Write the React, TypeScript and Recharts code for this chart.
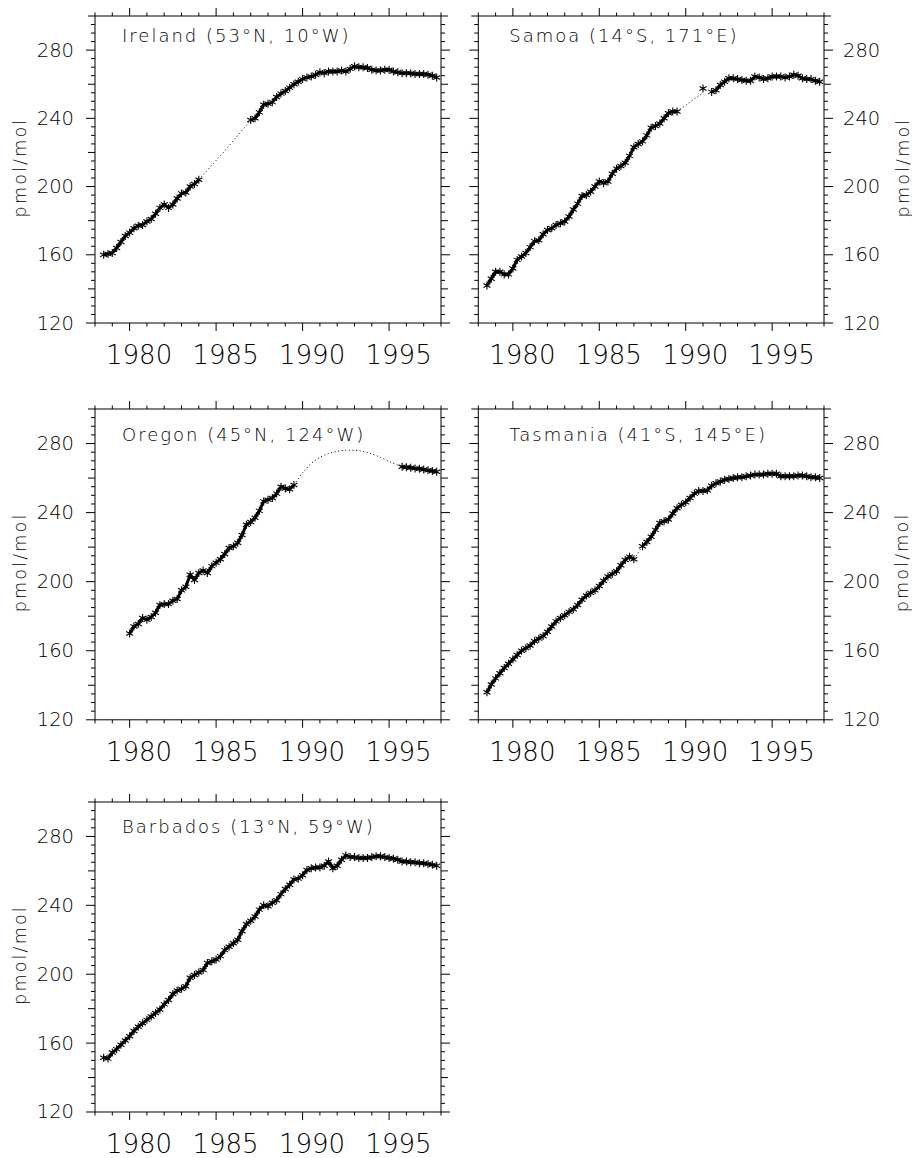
import { ComposedChart, Line, Scatter, XAxis, YAxis } from "recharts";

// Quarterly station means (pmol/mol). Each series starts at the given
// decimal year and steps a quarter; null marks quarters without sampling.
const irelandStart = 1978.5;
const irelandValues = [
  160, 160.5, 161, 164, 167.5, 171, 173, 175.5, 177, 177.5, 179.5, 181, 184,
  187.5, 189.5, 187.5, 189.5, 193, 196, 196.5, 200, 201.5, 204,
  null, null, null, null, null, null, null, null, null, null, null,
  239, 240, 243.5, 248, 248.5, 249.5, 252.5, 254.5, 256, 258, 260, 261.5,
  263, 264, 264.5, 265.5, 267, 266.5, 267.5, 267.5, 267.5, 268, 267.5, 269,
  270.5, 270, 270, 269.5, 268.5, 268, 268, 268.5, 268.5, 267.5, 267, 266.5,
  266.5, 266.5, 266, 266, 266, 265.5, 265, 264,
];
const irelandFitYears = [1984.0, 1984.75, 1985.5, 1986.25, 1987.0];
const irelandFitValues = [204, 212.5, 221, 230, 239];

const samoaStart = 1978.5;
const samoaValues = [
  142, 146, 150, 150, 148.5, 148.5, 152, 157, 159, 161, 164.5, 168, 168.5,
  172, 174.5, 175.5, 177.5, 178.5, 179.5, 182.5, 186.5, 190, 194.5, 195,
  197, 200, 203, 202, 203, 207.5, 210.5, 212, 214, 218, 223, 225, 226.5,
  230, 234.5, 235.5, 237, 240, 243, 244, 244,
  null, null, null, null, null,
  257.5, null,
  255.5, 256.5, 259.5, 261.5, 263.5, 263.5, 263, 262.5, 262, 262, 264.5,
  264, 263, 263.5, 264.5, 264.5, 264.5, 264, 264.5, 265.5, 265, 263.5, 263,
  263, 262, 261.5,
];
const samoaFitYears = [1989.5, 1990.25, 1991.0];
const samoaFitValues = [244, 249.5, 255];

const oregonStart = 1980.0;
const oregonValues = [
  170, 174, 175.5, 179, 178, 179.5, 182, 186.5, 187, 187, 189, 190, 195,
  197, 204, 201, 205, 206.5, 205, 209, 211, 213, 216, 219.5, 220.5, 222.5,
  227, 233, 234.5, 237, 241, 246.5, 247.5, 248.5, 251, 255, 254, 253.5, 256,
  null, null, null, null, null, null, null, null, null, null, null, null,
  null, null, null, null, null, null, null, null, null, null, null, null,
  266.5, 266.3, 266, 265.6, 265.4, 265, 264.5, 264.1, 263.6,
];
const oregonFitYears = [
  1989.5, 1990.0, 1990.5, 1991.0, 1991.5, 1992.0, 1992.5, 1993.0, 1993.5,
  1994.0, 1994.5, 1995.0, 1995.5, 1995.75,
];
const oregonFitValues = [
  256, 263, 268.5, 272, 274.2, 275.5, 276.1, 276.1, 275.4, 274, 272, 269.6,
  267.5, 266.5,
];

const tasmaniaStart = 1978.5;
const tasmaniaValues = [
  136, 140.5, 144, 147, 150, 152.5, 155, 157.5, 160, 161.5, 163, 165.5, 167,
  168.5, 171, 174, 177, 179, 180.5, 182.5, 184, 186.5, 189.5, 192, 193.5,
  195, 197.5, 200.5, 203, 204.5, 206, 209.5, 212.5, 214.5, 213, null, 220.5,
  223, 226, 230, 234, 235, 236, 239.5, 242.5, 244.5, 246, 248.5, 251, 252.5,
  252.5, 253, 255.5, 257, 258, 259, 259.5, 260, 260.5, 260.5, 261, 261.5,
  262, 262, 262, 262.5, 262.5, 262.5, 261, 261, 261, 261, 261.5, 261.5, 261,
  260.5, 260.5, 260,
];
const tasmaniaFitYears = [1987.0, 1987.5];
const tasmaniaFitValues = [213, 220.5];

const barbadosStart = 1978.5;
const barbadosValues = [
  151.5, 151, 154.5, 156.5, 159, 161.5, 164, 167, 169.5, 171.5, 173.5, 175.5,
  177.5, 179.5, 182.5, 185, 188.5, 190.5, 191.5, 193, 198, 199.5, 201, 202.5,
  206.5, 207.5, 208.5, 210.5, 214, 216, 218, 220, 225, 229, 231, 233.5,
  237.5, 240, 239.5, 241.5, 243, 246.5, 249.5, 252, 255, 255.5, 257.5, 260.5,
  261.5, 262, 262, 263, 265.5, 261.5, 263, 266.5, 269, 268, 268, 267.5,
  267.5, 267.5, 268, 268.5, 268.5, 268, 267.5, 267, 266.5, 265.5, 265.5, 265,
  265, 264.5, 264.5, 264, 263.5, 263,
];
const barbadosFitYears: number[] = [];
const barbadosFitValues: number[] = [];

// axis ticks
const yearTicks = [
  1978, 1979, 1980, 1981, 1982, 1983, 1984, 1985, 1986, 1987, 1988, 1989,
  1990, 1991, 1992, 1993, 1994, 1995, 1996, 1997, 1998,
];
const yearLabels = [1980, 1985, 1990, 1995];
const mixTicks = [
  120, 125, 130, 135, 140, 145, 150, 155, 160, 165, 170, 175, 180, 185, 190,
  195, 200, 205, 210, 215, 220, 225, 230, 235, 240, 245, 250, 255, 260, 265,
  270, 275, 280, 285, 290, 295, 300,
];
const mixLabels = [120, 160, 200, 240, 280];

const FONT = "'DejaVu Sans', sans-serif";
const INK = "#000";

type Row = { t: number; v: number | null };

const quarterly = (start: number, values: (number | null)[]): Row[] =>
  values.map((v, i) => ({ t: start + i * 0.25, v }));

const pairs = (ts: number[], vs: number[]): Row[] =>
  ts.map((t, i) => ({ t, v: vs[i] }));

type Box = { x0: number; x1: number; y0: number; y1: number };

type Panel = {
  title: string;
  rows: Row[];
  fit: Row[];
  box: Box;
  side: "left" | "right";
  titleDx: number;
  titleDy: number;
};

const panels: Panel[] = [
  {
    title: "Ireland (53°N, 10°W)",
    rows: quarterly(irelandStart, irelandValues),
    fit: pairs(irelandFitYears, irelandFitValues),
    box: { x0: 95, x1: 441, y0: 15.7, y1: 322.7 },
    side: "left",
    titleDx: 27,
    titleDy: 26,
  },
  {
    title: "Samoa (14°S, 171°E)",
    rows: quarterly(samoaStart, samoaValues),
    fit: pairs(samoaFitYears, samoaFitValues),
    box: { x0: 478.3, x1: 824, y0: 15.7, y1: 322.7 },
    side: "right",
    titleDx: 31,
    titleDy: 26,
  },
  {
    title: "Oregon (45°N, 124°W)",
    rows: quarterly(oregonStart, oregonValues),
    fit: pairs(oregonFitYears, oregonFitValues),
    box: { x0: 95, x1: 441, y0: 408.5, y1: 719.3 },
    side: "left",
    titleDx: 27,
    titleDy: 32,
  },
  {
    title: "Tasmania (41°S, 145°E)",
    rows: quarterly(tasmaniaStart, tasmaniaValues),
    fit: pairs(tasmaniaFitYears, tasmaniaFitValues),
    box: { x0: 478.3, x1: 824, y0: 408.5, y1: 719.3 },
    side: "right",
    titleDx: 31,
    titleDy: 32,
  },
  {
    title: "Barbados (13°N, 59°W)",
    rows: quarterly(barbadosStart, barbadosValues),
    fit: pairs(barbadosFitYears, barbadosFitValues),
    box: { x0: 95, x1: 441, y0: 801.7, y1: 1111.7 },
    side: "left",
    titleDx: 27,
    titleDy: 31,
  },
];

const yearTickLen = (yr: number) => (yr % 5 === 0 ? 8 : 3.5);
const mixTickLen = (v: number) => (v % 40 === 0 ? 9 : v % 20 === 0 ? 7 : 4);

function YearTick(props: any) {
  const { x, y, payload, side, labelled } = props;
  const v = payload.value as number;
  const dir = side === "bottom" ? 1 : -1;
  return (
    <g>
      <line x1={x} x2={x} y1={y} y2={y + dir * yearTickLen(v)} stroke={INK} />
      {labelled && yearLabels.includes(v) && (
        <text
          x={x + 9.5}
          y={y + 32}
          textAnchor="middle"
          dominantBaseline="central"
          fontFamily={FONT}
          fontWeight={200}
          fontSize={26}
          fill={INK}
        >
          {v}
        </text>
      )}
    </g>
  );
}

function MixTick(props: any) {
  const { x, y, payload, side, labelled } = props;
  const v = payload.value as number;
  const dir = side === "left" ? -1 : 1;
  return (
    <g>
      <line x1={x} x2={x + dir * mixTickLen(v)} y1={y} y2={y} stroke={INK} />
      {labelled && mixLabels.includes(v) && (
        <text
          x={side === "left" ? x - 21 : x + 19}
          y={y}
          textAnchor={side === "left" ? "end" : "start"}
          dominantBaseline="central"
          fontFamily={FONT}
          fontWeight={200}
          fontSize={19.5}
          fill={INK}
        >
          {v}
        </text>
      )}
    </g>
  );
}

// asterisk marker used for every sample
function Star(props: any) {
  const { cx, cy } = props;
  if (cx == null || cy == null) return <g />;
  const d =
    `M${cx},${cy - 4}V${cy + 4}` +
    `M${cx - 3.5},${cy - 2}L${cx + 3.5},${cy + 2}` +
    `M${cx - 3.5},${cy + 2}L${cx + 3.5},${cy - 2}`;
  return <path d={d} stroke={INK} strokeWidth={1.1} fill="none" />;
}

function StationPanel({ panel }: { panel: Panel }) {
  const { box, side } = panel;
  const left = side === "left" ? 0 : 452;
  const width = 460;
  const top = box.y0 - 15;
  const bottomRoom = Math.min(60, 1158 - box.y1);
  const height = box.y1 - box.y0 + 15 + bottomRoom;
  const axisSize = 10;
  const margin = {
    left: box.x0 - left - axisSize,
    right: left + width - box.x1 - axisSize,
    top: 15 - axisSize,
    bottom: bottomRoom - axisSize,
  };
  const stars = panel.rows.filter((r) => r.v !== null);
  const plotMidY = (box.y1 - box.y0) / 2 + 15 - 2;
  const unitX = side === "left" ? 20 : 450.5;

  return (
    <div style={{ position: "absolute", left, top, width, height }}>
      <ComposedChart width={width} height={height} margin={margin}>
        <XAxis
          xAxisId="b"
          dataKey="t"
          type="number"
          domain={[1978, 1998]}
          allowDataOverflow
          ticks={yearTicks}
          interval={0}
          height={axisSize}
          tickSize={0}
          tickMargin={0}
          tickLine={false}
          axisLine={{ stroke: INK }}
          tick={(p: any) => <YearTick {...p} side="bottom" labelled />}
        />
        <XAxis
          xAxisId="t"
          orientation="top"
          dataKey="t"
          type="number"
          domain={[1978, 1998]}
          allowDataOverflow
          ticks={yearTicks}
          interval={0}
          height={axisSize}
          tickSize={0}
          tickMargin={0}
          tickLine={false}
          axisLine={{ stroke: INK }}
          tick={(p: any) => <YearTick {...p} side="top" />}
        />
        <YAxis
          yAxisId="l"
          dataKey="v"
          type="number"
          domain={[120, 300]}
          allowDataOverflow
          ticks={mixTicks}
          interval={0}
          width={axisSize}
          tickSize={0}
          tickMargin={0}
          tickLine={false}
          axisLine={{ stroke: INK }}
          tick={(p: any) => (
            <MixTick {...p} side="left" labelled={side === "left"} />
          )}
        />
        <YAxis
          yAxisId="r"
          orientation="right"
          dataKey="v"
          type="number"
          domain={[120, 300]}
          allowDataOverflow
          ticks={mixTicks}
          interval={0}
          width={axisSize}
          tickSize={0}
          tickMargin={0}
          tickLine={false}
          axisLine={{ stroke: INK }}
          tick={(p: any) => (
            <MixTick {...p} side="right" labelled={side === "right"} />
          )}
        />
        {panel.fit.length > 0 && (
          <Line
            xAxisId="b"
            yAxisId="l"
            data={panel.fit}
            dataKey="v"
            type="monotone"
            stroke={INK}
            strokeWidth={1}
            strokeDasharray="1 2.6"
            dot={false}
            activeDot={false}
            isAnimationActive={false}
          />
        )}
        <Line
          xAxisId="b"
          yAxisId="l"
          data={panel.rows}
          dataKey="v"
          type="linear"
          stroke={INK}
          strokeWidth={3}
          strokeLinejoin="round"
          dot={false}
          activeDot={false}
          isAnimationActive={false}
        />
        <Scatter
          xAxisId="t"
          yAxisId="r"
          data={stars}
          dataKey="v"
          shape={(p: any) => <Star cx={p.cx} cy={p.cy} />}
          isAnimationActive={false}
        />
      </ComposedChart>
      <svg
        width={width}
        height={height}
        style={{ position: "absolute", left: 0, top: 0, pointerEvents: "none" }}
      >
        <text
          x={box.x0 - left + panel.titleDx}
          y={15 + panel.titleDy}
          fontFamily={FONT}
          fontWeight={200}
          fontSize={18}
          letterSpacing={2}
          fill={INK}
        >
          {panel.title}
        </text>
        <text
          x={unitX}
          y={plotMidY}
          transform={`rotate(-90 ${unitX} ${plotMidY})`}
          textAnchor="middle"
          dominantBaseline="central"
          fontFamily={FONT}
          fontWeight={200}
          fontSize={17.5}
          letterSpacing={2.2}
          fill={INK}
        >
          pmol/mol
        </text>
      </svg>
    </div>
  );
}

export default function App() {
  return (
    <div
      style={{
        position: "absolute",
        left: 0,
        top: 0,
        width: 912,
        height: 1158,
        background: "#fff",
        overflow: "hidden",
      }}
    >
      {panels.map((p) => (
        <StationPanel key={p.title} panel={p} />
      ))}
    </div>
  );
}
